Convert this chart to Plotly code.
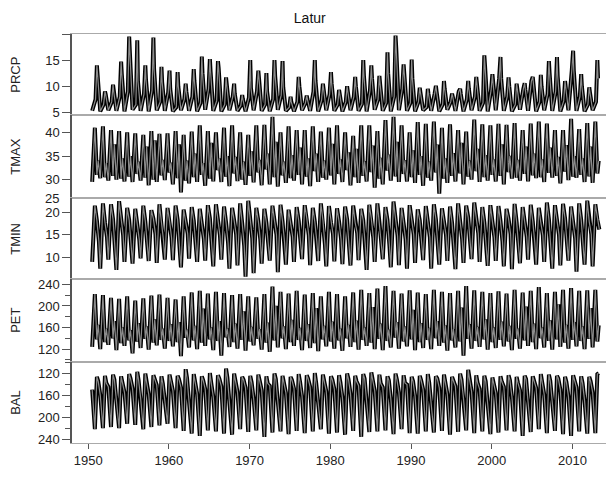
import plotly.graph_objects as go
from plotly.subplots import make_subplots

years = list(range(1951, 2014))
# the reference's monthly time axis sits about half a year earlier than calendar dates
time_shift = -0.5

# ---- PRCP (dry-season base, June, August peak, September) ----
prcp_months = [1, 6, 8, 9]
prcp_dry = [5.3, 5.2, 5.4, 5.3, 5.2, 5.5, 5.3, 5.2, 5.4, 5.3,
            5.2, 5.4, 5.3, 5.2, 5.5, 5.3, 5.2, 5.4, 5.3, 5.2,
            5.4, 5.3, 5.2, 5.5, 5.3, 5.2, 5.4, 5.3, 5.2, 5.4,
            5.3, 5.2, 5.4, 5.3, 5.2, 5.5, 5.3, 5.2, 5.4, 5.3,
            5.2, 5.4, 5.3, 5.2, 5.5, 5.3, 5.2, 5.4, 5.3, 5.2,
            5.4, 5.3, 5.2, 5.5, 5.3, 5.2, 5.4, 5.3, 5.2, 5.4,
            5.3, 5.2, 5.4]
prcp_jun = [7.5, 6.5, 7.0, 8.0, 9.0, 6.5, 8.5, 9.2, 7.0, 8.8,
            6.0, 7.5, 8.0, 6.8, 9.5, 7.2, 6.5, 8.0, 6.3, 7.8,
            9.0, 6.5, 7.5, 8.3, 6.0, 7.0, 6.8, 9.0, 7.3, 8.5,
            6.5, 7.0, 8.0, 6.6, 9.2, 7.5, 6.8, 8.0, 9.5, 6.8,
            7.0, 6.0, 8.5, 6.5, 7.0, 9.0, 7.5, 8.0, 6.8, 9.2,
            11.5, 8.0, 6.5, 9.5, 11.0, 7.0, 8.5, 9.0, 7.2, 13.0,
            8.0, 6.5, 7.0]
prcp_peak = [14.0, 9.0, 10.3, 14.7, 19.5, 18.8, 14.0, 19.3, 13.7, 13.0,
             12.7, 10.5, 13.3, 15.7, 15.2, 14.8, 11.7, 10.5, 8.3, 15.0,
             13.0, 12.5, 15.0, 14.8, 8.0, 11.8, 8.2, 15.0, 10.5, 12.7,
             9.3, 10.0, 11.8, 15.0, 14.0, 12.0, 16.5, 19.7, 14.2, 15.1,
             9.7, 9.5, 10.1, 11.0, 8.6, 9.5, 11.0, 11.8, 15.9, 12.3,
             15.6, 11.7, 10.5, 10.6, 11.8, 12.2, 14.8, 15.6, 11.0, 16.8,
             12.3, 9.8, 15.0]
prcp_sep = [12.5, 8.5, 9.0, 12.3, 16.5, 11.0, 11.2, 13.3, 10.8, 9.5,
            10.0, 9.0, 11.0, 12.5, 12.8, 13.5, 10.3, 8.5, 7.5, 9.7,
            11.5, 9.0, 12.0, 9.8, 7.0, 10.0, 7.5, 11.0, 9.5, 10.5,
            8.5, 9.0, 10.0, 12.0, 11.5, 10.5, 12.5, 17.3, 12.5, 11.5,
            8.8, 8.5, 9.0, 9.5, 8.0, 8.5, 9.5, 10.5, 14.0, 10.5,
            11.5, 10.0, 9.5, 9.3, 10.5, 10.0, 12.5, 12.0, 9.8, 13.0,
            10.0, 8.8, 11.5]

# ---- TMAX (January, May peak, August, October) ----
tmax_months = [1, 5, 8, 10]
tmax_jan = [29.5, 30.3, 29.8, 30.0, 29.6, 29.5, 29.8, 28.8, 29.5, 29.9,
            29.0, 27.3, 29.2, 29.5, 28.7, 29.6, 29.5, 28.6, 29.7, 28.9,
            29.4, 28.8, 29.0, 28.5, 29.3, 29.8, 29.0, 28.6, 29.5, 30.0,
            29.0, 29.5, 28.8, 29.3, 29.6, 28.3, 29.0, 29.8, 29.5, 29.6,
            29.3, 28.7, 29.8, 27.0, 29.3, 29.6, 29.0, 30.0, 29.5, 29.8,
            29.6, 29.0, 30.2, 29.8, 29.6, 30.3, 29.5, 30.4, 29.2, 29.9,
            30.4, 29.5, 29.3]
tmax_may = [41.0, 41.3, 40.5, 40.3, 40.0, 39.8, 39.5, 40.3, 39.7, 39.8,
            40.3, 39.5, 40.2, 41.5, 40.3, 40.0, 41.0, 41.5, 40.0, 39.5,
            41.5, 41.6, 43.3, 40.0, 41.3, 40.5, 40.5, 41.3, 40.2, 41.0,
            41.5, 40.0, 39.3, 41.5, 41.5, 40.3, 42.6, 43.3, 41.5, 40.0,
            42.2, 41.8, 42.3, 41.0, 41.7, 40.5, 40.2, 42.7, 41.7, 41.5,
            41.8, 41.6, 42.0, 40.5, 41.9, 42.3, 41.9, 40.5, 40.5, 42.9,
            40.7, 42.0, 42.3]
tmax_aug = [31.0, 30.5, 30.8, 30.2, 30.6, 31.2, 30.4, 30.0, 30.9, 31.5,
            30.3, 29.8, 30.5, 31.0, 30.2, 32.0, 30.6, 31.3, 30.0, 30.8,
            31.5, 32.2, 30.5, 30.9, 30.3, 31.0, 30.6, 31.8, 30.4, 30.9,
            31.2, 32.0, 30.5, 30.8, 31.6, 30.2, 31.9, 30.7, 31.2, 30.5,
            31.0, 30.4, 31.5, 30.2, 30.8, 31.3, 30.6, 31.8, 30.5, 31.0,
            30.8, 31.6, 30.4, 31.2, 30.9, 30.5, 31.4, 30.8, 31.7, 30.6,
            31.0, 30.7, 31.3]
tmax_oct = [34.0, 33.5, 37.5, 34.5, 35.0, 33.8, 37.0, 38.3, 34.2, 33.6,
            37.5, 34.0, 35.5, 33.5, 37.8, 34.5, 35.0, 34.8, 33.8, 36.0,
            34.2, 35.5, 38.0, 33.8, 35.2, 36.8, 34.5, 35.5, 34.0, 37.6,
            34.3, 35.8, 36.5, 33.9, 37.2, 34.6, 35.3, 38.0, 34.1, 36.2,
            35.0, 33.8, 37.4, 34.5, 35.6, 37.8, 34.0, 36.5, 35.2, 34.3,
            37.5, 35.0, 34.2, 37.0, 35.5, 34.3, 36.8, 34.8, 37.3, 35.0,
            34.5, 37.0, 34.0]

# ---- TMIN (January, May peak, August, November) ----
tmin_months = [1, 5, 8, 11]
tmin_jan = [9.0, 7.5, 9.5, 7.2, 9.0, 8.6, 9.8, 9.2, 8.8, 9.5,
            9.4, 7.8, 9.7, 9.0, 9.3, 8.0, 9.5, 7.5, 8.2, 5.7,
            6.5, 8.6, 9.3, 6.7, 8.4, 9.0, 9.6, 8.3, 9.2, 8.0,
            9.1, 8.5, 8.2, 9.4, 7.2, 9.0, 9.6, 7.8, 8.3, 7.5,
            8.8, 9.4, 7.5, 8.4, 9.2, 7.4, 8.8, 9.6, 9.0, 8.1,
            9.2, 8.0, 7.4, 8.7, 9.5, 8.4, 9.0, 7.5, 8.2, 9.3,
            6.8, 8.4, 8.0]
tmin_may = [21.5, 22.0, 21.8, 22.5, 21.0, 20.8, 21.5, 20.5, 21.8, 21.0,
            21.5, 20.6, 21.2, 20.8, 21.6, 21.8, 21.3, 21.0, 22.0, 22.6,
            21.0, 20.8, 21.5, 21.7, 20.6, 21.2, 21.6, 21.0, 22.0, 21.4,
            20.9, 21.3, 21.5, 20.8, 21.7, 22.0, 21.2, 22.4, 21.0, 21.6,
            20.7, 21.4, 21.8, 20.9, 21.3, 22.0, 21.5, 22.2, 21.2, 21.6,
            21.4, 20.8, 21.9, 21.2, 21.7, 21.0, 22.2, 21.6, 21.9, 21.3,
            22.0, 22.6, 21.8]
tmin_aug = [18.2, 17.8, 18.5, 17.9, 18.3, 17.6, 18.0, 18.6, 17.7, 18.1,
            18.4, 17.9, 18.2, 17.5, 18.7, 18.0, 17.8, 18.3, 17.6, 18.5,
            18.1, 17.7, 18.4, 18.0, 17.6, 18.2, 18.8, 17.9, 18.3, 17.8,
            18.0, 18.5, 17.7, 18.2, 18.6, 17.9, 18.3, 18.0, 17.6, 18.4,
            18.2, 17.8, 18.5, 18.1, 17.7, 18.3, 18.9, 18.0, 17.8, 18.4,
            18.1, 18.6, 17.9, 18.3, 18.0, 17.7, 18.5, 18.2, 18.7, 18.0,
            18.3, 17.9, 18.4]
tmin_nov = [13.5, 14.5, 12.8, 15.0, 13.2, 14.0, 12.5, 15.2, 13.8, 14.4,
            12.9, 15.3, 13.6, 14.1, 12.7, 14.8, 13.3, 15.1, 12.6, 14.2,
            13.9, 12.4, 15.0, 13.4, 14.6, 12.8, 14.9, 13.5, 12.9, 15.2,
            14.0, 13.1, 15.4, 12.7, 14.3, 13.6, 12.5, 14.8, 13.9, 15.1,
            12.8, 14.5, 13.2, 15.0, 12.6, 14.1, 13.7, 15.3, 12.9, 14.4,
            13.5, 15.2, 12.7, 14.6, 13.3, 14.9, 12.8, 15.0, 13.6, 14.2,
            12.9, 15.1, 16.2]

# ---- PET (January, May peak, August, October) ----
pet_months = [1, 5, 8, 10]
pet_jan = [124, 120, 128, 118, 126, 112, 122, 119, 127, 121,
           125, 107, 123, 120, 126, 118, 108, 124, 121, 117,
           127, 119, 115, 123, 120, 126, 118, 122, 116, 125,
           121, 117, 124, 119, 126, 120, 118, 123, 121, 125,
           118, 122, 120, 126, 117, 123, 108, 121, 124, 119,
           122, 125, 118, 121, 126, 120, 123, 119, 124, 121,
           125, 120, 123]
pet_may = [222, 220, 215, 213, 218, 210, 214, 219, 221, 215,
           212, 218, 225, 228, 223, 226, 224, 220, 222, 218,
           216, 222, 236, 226, 223, 228, 221, 224, 218, 226,
           222, 218, 225, 230, 224, 232, 237, 228, 223, 229,
           225, 222, 230, 226, 224, 228, 237, 229, 226, 224,
           227, 223, 230, 225, 228, 235, 224, 226, 230, 233,
           228, 229, 230]
pet_aug = [138, 133, 140, 131, 136, 134, 139, 132, 137, 135,
           133, 141, 136, 132, 138, 135, 142, 133, 137, 134,
           139, 132, 136, 140, 133, 137, 135, 131, 138, 134,
           136, 140, 133, 137, 132, 139, 135, 141, 134, 138,
           133, 137, 140, 132, 136, 134, 139, 135, 138, 133,
           137, 134, 139, 136, 133, 140, 135, 138, 132, 137,
           135, 139, 134]
pet_oct = [165, 158, 172, 160, 155, 168, 162, 175, 158, 166,
           170, 156, 163, 195, 160, 172, 158, 167, 190, 161,
           157, 169, 200, 162, 174, 159, 166, 196, 163, 171,
           158, 165, 173, 160, 198, 167, 156, 170, 162, 193,
           168, 159, 172, 164, 157, 197, 166, 161, 175, 160,
           171, 163, 158, 199, 167, 160, 173, 203, 165, 170,
           162, 196, 164]

# ---- BAL (January, May, August, October) ----
bal_months = [1, 5, 8, 10]
bal_jan = [150, 160, 145, 170, 155, 148, 165, 158, 142, 172,
           152, 146, 168, 157, 149, 163, 144, 171, 154, 147,
           166, 151, 143, 169, 156, 148, 162, 145, 173, 153,
           149, 164, 157, 143, 170, 152, 146, 167, 155, 141,
           161, 150, 175, 147, 158, 144, 166, 153, 149, 172,
           156, 145, 163, 151, 168, 147, 159, 174, 150, 162,
           146, 170, 155]
bal_may = [222, 220, 218, 220, 212, 214, 222, 218, 215, 212,
           220, 225, 230, 234, 224, 226, 230, 232, 222, 227,
           224, 236, 228, 226, 231, 225, 229, 226, 222, 230,
           228, 232, 225, 236, 227, 226, 224, 231, 222, 229,
           230, 226, 228, 225, 232, 227, 224, 229, 226, 231,
           228, 224, 226, 234, 227, 222, 229, 225, 231, 234,
           226, 230, 229]
bal_aug = [127, 125, 123, 126, 122, 118, 121, 124, 126, 123,
           125, 113, 122, 126, 120, 124, 112, 121, 127, 125,
           123, 126, 121, 125, 127, 122, 124, 120, 123, 126,
           124, 121, 125, 122, 119, 123, 126, 121, 124, 127,
           125, 122, 126, 123, 127, 121, 114, 124, 125, 128,
           126, 124, 127, 125, 126, 122, 123, 125, 127, 124,
           126, 127, 122]
bal_oct = [135, 138, 132, 136, 130, 133, 137, 131, 139, 134,
           131, 129, 136, 133, 138, 130, 128, 135, 132, 137,
           134, 139, 131, 137, 133, 136, 130, 138, 134, 132,
           137, 131, 135, 130, 136, 139, 133, 132, 138, 135,
           133, 137, 130, 136, 134, 132, 131, 138, 135, 139,
           136, 133, 138, 131, 135, 137, 134, 130, 136, 133,
           138, 135, 120]

x_tick_vals = [1950, 1960, 1970, 1980, 1990, 2000, 2010]
panel_names = ["PRCP", "TMAX", "TMIN", "PET", "BAL"]


def build(months, *cols):
    for c in cols:
        assert len(c) == len(years), len(c)
    xs, ys = [], []
    for i, yr in enumerate(years):
        for m, col in zip(months, cols):
            xs.append(yr + (m - 1) / 12.0 + time_shift)
            ys.append(col[i])
    return xs, ys


series = [
    build(prcp_months, prcp_dry, prcp_jun, prcp_peak, prcp_sep),
    build(tmax_months, tmax_jan, tmax_may, tmax_aug, tmax_oct),
    build(tmin_months, tmin_jan, tmin_may, tmin_aug, tmin_nov),
    build(pet_months, pet_jan, pet_may, pet_aug, pet_oct),
    build(bal_months, bal_jan, bal_may, bal_aug, bal_oct),
]

fig = make_subplots(rows=5, cols=1, shared_xaxes=True, vertical_spacing=0)

for r, (xs, ys) in enumerate(series, start=1):
    fig.add_trace(go.Scatter(x=xs, y=ys, mode="lines",
                             line=dict(color="black", width=4.0),
                             hoverinfo="skip", showlegend=False), row=r, col=1)
    fig.add_trace(go.Scatter(x=xs, y=ys, mode="lines",
                             line=dict(color="#8c8c8c", width=1.2),
                             hoverinfo="skip", showlegend=False), row=r, col=1)

# panel domains (paper fraction)
doms = [(0.802, 1.0), (0.599, 0.802), (0.401, 0.599), (0.198, 0.401), (0.0, 0.198)]
yranges = [[4.5, 20], [26.1, 43.7], [5.2, 23.2], [96, 250], [247, 100]]
ytickvals = [[5, 10, 15, 20], [30, 35, 40], [10, 15, 20], [120, 160, 200, 240], [120, 160, 200, 240]]
yticktext = [["5", "10", "15", ""], ["30", "35", "40"], ["10", "15", "20"],
             ["120", "160", "200", "240"], ["120", "160", "200", "240"]]

font = "Liberation Sans, Arial, sans-serif"
for i in range(5):
    yname = "yaxis" if i == 0 else f"yaxis{i+1}"
    xname = "xaxis" if i == 0 else f"xaxis{i+1}"
    ydict = dict(domain=list(doms[i]), range=yranges[i], tickmode="array",
                 tickvals=ytickvals[i], ticktext=yticktext[i], automargin=False,
                 ticks="outside", ticklen=8, tickwidth=1, tickcolor="#555",
                 showline=True, linecolor="#555", linewidth=1.5,
                 showgrid=False, zeroline=False,
                 tickfont=dict(family=font, size=13, color="#222"))
    if i >= 3:
        ydict["minor"] = dict(dtick=20, tick0=100, ticks="outside", ticklen=5,
                              tickcolor="#555", showgrid=False)
    fig.layout[yname].update(ydict)
    xdict = dict(range=[1948.0, 2014.9], showgrid=False, zeroline=False, automargin=False,
                 showline=True, mirror=True, linecolor="#aaa", linewidth=1.2)
    if i == 4:
        xdict.update(tickmode="array", tickvals=x_tick_vals, ticks="outside",
                     ticklen=5, tickcolor="#555", showticklabels=True,
                     tickfont=dict(family=font, size=13, color="#222"))
    else:
        xdict.update(showticklabels=False, ticks="")
    fig.layout[xname].update(xdict)

annotations = []
for i, name in enumerate(panel_names):
    annotations.append(dict(text=name, xref="paper", yref="paper",
                            x=-0.105, y=(doms[i][0] + doms[i][1]) / 2,
                            textangle=-90, showarrow=False,
                            font=dict(family=font, size=13, color="#222"),
                            xanchor="center", yanchor="middle"))
annotations.append(dict(text="25", xref="paper", yref="paper", x=-0.021, y=doms[1][0],
                        showarrow=False, xanchor="right", yanchor="middle",
                        font=dict(family=font, size=13, color="#222")))

# the page body has an 8px default margin, so the figure is sized to fit the window
fig.update_layout(
    template="none",
    width=606, height=461,
    margin=dict(l=64, r=2, t=26, b=26, pad=0),
    paper_bgcolor="white", plot_bgcolor="white",
    title=dict(text="Latur", x=0.498, xref="container", xanchor="center",
               y=1 - 10 / 461, yref="container", yanchor="middle",
               font=dict(family=font, size=14, color="#111")),
    annotations=annotations,
)
fig.add_shape(type="line", xref="paper", yref="paper", x0=1, x1=1, y0=0, y1=1,
              line=dict(color="#aaa", width=1.2))

fig.write_html("out.html")
